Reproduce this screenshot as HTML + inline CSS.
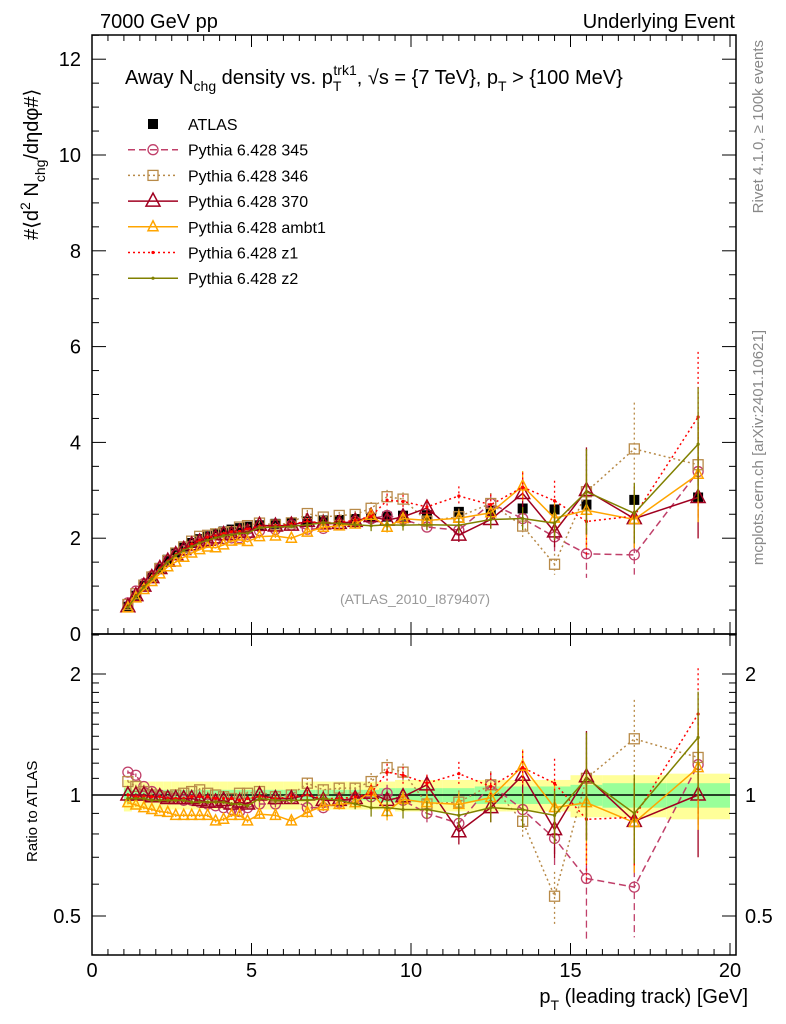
<!DOCTYPE html>
<html><head><meta charset="utf-8"><style>
body{margin:0;background:#fff;}
svg{display:block;font-family:"Liberation Sans",sans-serif;}
</style></head><body>
<svg id="chart" width="786" height="1024" viewBox="0 0 786 1024">
<g>
<text x="100" y="28" font-size="20">7000 GeV pp</text>
<text x="735" y="28" font-size="20" text-anchor="end">Underlying Event</text>
</g>
<text transform="translate(763,40) rotate(-90)" font-size="15" fill="#888" text-anchor="end">Rivet 4.1.0, ≥ 100k events</text>
<text transform="translate(763,330) rotate(-90)" font-size="15" fill="#888" text-anchor="end">mcplots.cern.ch [arXiv:2401.10621]</text>
<text transform="translate(38,240) rotate(-90)" font-size="20">#⟨d<tspan dy="-8" font-size="14">2</tspan><tspan dy="8"> N</tspan><tspan dy="7" font-size="14">chg</tspan><tspan dy="-7">/dηdφ#⟩</tspan></text>
<text transform="translate(37,862) rotate(-90)" font-size="15">Ratio to ATLAS</text>
<text x="748" y="1003" font-size="20" text-anchor="end">p<tspan dy="7" font-size="14">T</tspan><tspan dy="-7"> (leading track) [GeV]</tspan></text>
<text x="125" y="84" font-size="20">Away N<tspan dy="7" font-size="14">chg</tspan><tspan dy="-7"> density vs. p</tspan><tspan dy="7" font-size="14">T</tspan><tspan dx="-8" dy="-16" font-size="14">trk1</tspan><tspan dy="9">, √s = {7 TeV}, p</tspan><tspan dy="7" font-size="14">T</tspan><tspan dy="-7"> &gt; {100 MeV}</tspan></text>
<text x="415" y="604" font-size="14" fill="#999" text-anchor="middle">(ATLAS_2010_I879407)</text>
<g id="bands"></g><g id="axes"></g><g id="series"></g><g id="legend"></g>
</svg>
<script>
const xs=[1.125,1.375,1.625,1.875,2.125,2.375,2.625,2.875,3.125,3.375,3.625,3.875,4.125,4.375,4.625,4.875,5.25,5.75,6.25,6.75,7.25,7.75,8.25,8.75,9.25,9.75,10.5,11.5,12.5,13.5,14.5,15.5,17,19];
const binLo=[1,1.25,1.5,1.75,2,2.25,2.5,2.75,3,3.25,3.5,3.75,4,4.25,4.5,4.75,5,5.5,6,6.5,7,7.5,8,8.5,9,9.5,10,11,12,13,14,15,16,18];
const binHi=[1.25,1.5,1.75,2,2.25,2.5,2.75,3,3.25,3.5,3.75,4,4.25,4.5,4.75,5,5.5,6,6.5,7,7.5,8,8.5,9,9.5,10,11,12,13,14,15,16,18,20];
const atlas=[0.57,0.80,1.00,1.19,1.38,1.55,1.69,1.80,1.90,1.98,2.04,2.09,2.14,2.18,2.21,2.24,2.27,2.30,2.32,2.35,2.37,2.38,2.40,2.43,2.45,2.47,2.48,2.55,2.57,2.62,2.60,2.70,2.80,2.85];
const bandTot=[0.09,0.08,0.08,0.08,0.08,0.08,0.08,0.08,0.08,0.08,0.08,0.08,0.08,0.08,0.08,0.08,0.08,0.08,0.08,0.08,0.08,0.08,0.08,0.08,0.08,0.09,0.09,0.09,0.09,0.09,0.09,0.12,0.12,0.13];
const bandStat=[0.04,0.03,0.03,0.03,0.03,0.03,0.03,0.03,0.03,0.03,0.03,0.03,0.03,0.03,0.03,0.03,0.03,0.03,0.03,0.03,0.03,0.03,0.03,0.03,0.04,0.04,0.04,0.04,0.05,0.05,0.05,0.06,0.07,0.07];
const r345=[1.14,1.12,1.05,1.02,1.0,0.99,0.98,0.97,0.97,0.96,0.95,0.94,0.93,0.92,0.91,0.93,0.95,0.95,0.98,0.93,0.93,0.96,0.98,0.99,1.01,0.97,0.90,0.85,1.06,0.92,0.78,0.62,0.59,1.19];
const r346=[1.08,1.05,1.02,1.0,0.99,0.99,1.0,1.01,1.02,1.03,1.01,1.0,0.99,0.98,1.01,1.01,1.02,0.99,1.0,1.07,1.03,1.04,1.04,1.08,1.17,1.14,0.95,0.96,1.06,0.86,0.56,1.1,1.38,1.24];
const r370=[1.0,1.0,1.0,0.99,0.99,0.98,0.98,0.98,0.98,0.97,0.96,0.96,0.97,0.95,0.96,0.95,1.0,0.98,0.98,1.0,0.97,0.97,0.98,1.01,0.97,0.99,1.06,0.81,0.93,1.12,0.82,1.11,0.86,1.0];
const rAmbt=[0.957,0.944,0.93,0.92,0.91,0.905,0.89,0.89,0.89,0.89,0.89,0.862,0.87,0.89,0.89,0.862,0.896,0.89,0.862,0.905,0.94,0.948,0.957,1.02,0.91,0.975,0.957,0.948,0.985,1.18,0.93,0.957,0.854,1.17];
const rZ1=[1.0,0.99,0.99,0.99,0.99,0.98,0.98,0.98,0.99,0.99,0.99,0.98,0.98,0.98,0.97,0.98,0.99,0.98,0.99,1.0,0.98,0.98,0.99,1.01,1.14,1.12,1.07,1.13,1.05,1.17,1.07,0.87,0.88,1.59];
const rZ2=[0.98,0.98,0.98,0.97,0.97,0.97,0.97,0.97,0.96,0.96,0.96,0.96,0.96,0.95,0.95,0.94,0.98,0.97,0.97,0.97,0.98,0.97,0.95,0.93,0.93,0.92,0.92,0.89,0.93,0.92,0.89,1.1,0.9,1.39];
const mcErr=[0.01,0.01,0.01,0.01,0.01,0.01,0.01,0.01,0.01,0.01,0.01,0.01,0.01,0.01,0.01,0.01,0.02,0.02,0.02,0.03,0.03,0.03,0.03,0.05,0.05,0.05,0.05,0.07,0.08,0.1,0.15,0.3,0.25,0.3];
const legendLabels=["ATLAS","Pythia 6.428 345","Pythia 6.428 346","Pythia 6.428 370","Pythia 6.428 ambt1","Pythia 6.428 z1","Pythia 6.428 z2"];

const NS="http://www.w3.org/2000/svg";
const L=92,R=736,T=35,MB=634,RB=955;
const X=v=>L+v*31.9, Y=v=>MB-v*47.9, YR=r=>795-121*Math.log2(r);
function mk(parent,tag,attrs){const e=document.createElementNS(NS,tag);for(const k in attrs)e.setAttribute(k,attrs[k]);parent.appendChild(e);return e;}
const gB=document.getElementById('bands'),gA=document.getElementById('axes'),gS=document.getElementById('series'),gL=document.getElementById('legend');
const cl=Math.max, rr=r=>Math.min(RB,Math.max(MB,YR(Math.max(r,0.01))));

// bands
xs.forEach((x,i)=>{
 let b=mk(gB,'rect',{x:X(binLo[i]),y:YR(1+bandTot[i]),width:X(binHi[i])-X(binLo[i]),height:YR(1-bandTot[i])-YR(1+bandTot[i]),fill:'#ffff99'});
 
 
 let s=mk(gB,'rect',{x:X(binLo[i]),y:YR(1+bandStat[i]),width:X(binHi[i])-X(binLo[i]),height:YR(1-bandStat[i])-YR(1+bandStat[i]),fill:'#99ff99'});
 
 
});
let one=mk(gB,'line',{x1:L,x2:R,y1:YR(1),y2:YR(1),stroke:'#000','stroke-width':1.5});



// frames
let f1=mk(gA,'rect',{x:L,y:T,width:R-L,height:MB-T,fill:'none',stroke:'#000','stroke-width':1.5});


let f2=mk(gA,'rect',{x:L,y:MB,width:R-L,height:RB-MB,fill:'none',stroke:'#000','stroke-width':1.5});


// x ticks
for(let v=0;v<=20.001;v+=0.5){
 const maj=Math.abs(v%5)<1e-6, len=maj?12:6;
 [[MB,-1],[T,1],[RB,-1]].forEach(([y0,d])=>{
  let t=mk(gA,'line',{x1:X(v),x2:X(v),y1:y0,y2:y0+d*len,stroke:'#000'});
  
  
 });
 if(maj){let t=mk(gA,'line',{x1:X(v),x2:X(v),y1:MB,y2:MB+12,stroke:'#000'});
  
  
  let lb=mk(gA,'text',{x:X(v),y:977,'font-size':20,'text-anchor':'middle'});lb.textContent=v;
  
  }
}
// main y ticks
for(let v=0;v<=12.5;v+=0.5){
 const maj=Math.abs(v%2)<1e-6,len=maj?14:7;
 [[L,1],[R,-1]].forEach(([x0,d])=>{let t=mk(gA,'line',{x1:x0,x2:x0+d*len,y1:Y(v),y2:Y(v),stroke:'#000'});
  
  });
 if(maj){let lb=mk(gA,'text',{x:81,y:Y(v)+7,'font-size':20,'text-anchor':'end'});lb.textContent=v;
  
  }
}
// ratio y ticks
const rt=[0.4,0.5,0.6,0.7,0.8,0.9,1,1.1,1.2,1.3,1.4,1.5,1.6,1.7,1.8,1.9,2,2.5];
rt.forEach(r=>{
 const maj=(r===0.5||r===1||r===2),len=maj?14:7;
 if(YR(r)<MB||YR(r)>RB)return;
 [[L,1],[R,-1]].forEach(([x0,d])=>{let t=mk(gA,'line',{x1:x0,x2:x0+d*len,y1:YR(r),y2:YR(r),stroke:'#000'});
  
  });
 if(maj){[[81,'end'],[745,'start']].forEach(([xx,a])=>{let lb=mk(gA,'text',{x:xx,y:YR(r)+7,'font-size':20,'text-anchor':a});lb.textContent=r;
  
  });}
});

// series
const series=[
 {n:'pythia-345',r:r345,c:'#c0406a',dash:'7,4',m:'circle'},
 {n:'pythia-346',r:r346,c:'#b88a48',dash:'2,3',m:'square'},
 {n:'pythia-370',r:r370,c:'#a00020',dash:'',m:'tri'},
 {n:'pythia-ambt1',r:rAmbt,c:'#ffa500',dash:'',m:'trismall'},
 {n:'pythia-z1',r:rZ1,c:'#ff0000',dash:'2,3',m:'dot'},
 {n:'pythia-z2',r:rZ2,c:'#808000',dash:'',m:'dot'}];
function marker(g,m,x,y,c){
 let e;
 if(m==='circle')e=mk(g,'circle',{cx:x,cy:y,r:5,fill:'none',stroke:c,'stroke-width':1.3});
 else if(m==='square')e=mk(g,'rect',{x:x-5,y:y-5,width:10,height:10,fill:'none',stroke:c,'stroke-width':1.3});
 else if(m==='tri')e=mk(g,'polygon',{points:`${x-7},${y+5} ${x+7},${y+5} ${x},${y-8}`,fill:'none',stroke:c,'stroke-width':1.5});
 else if(m==='trismall')e=mk(g,'polygon',{points:`${x-5},${y+4} ${x+5},${y+4} ${x},${y-6}`,fill:'none',stroke:c,'stroke-width':1.5});
 else if(m==='filled')e=mk(g,'rect',{x:x-5,y:y-5,width:10,height:10,fill:'#000'});
 else e=mk(g,'circle',{cx:x,cy:y,r:1.6,fill:c});
 return e;
}
// ATLAS main
atlas.forEach((v,i)=>{let e=marker(gS,'filled',X(xs[i]),Y(v),'#000');
 
 });
series.forEach(s=>{
 const g=mk(gS,'g',{});
 
 
 const mv=s.r.map((r,i)=>r*atlas[i]);
 const pm=mv.map((v,i)=>X(xs[i])+','+Y(v)).join(' ');
 const pr=s.r.map((r,i)=>X(xs[i])+','+YR(r)).join(' ');
 let l1=mk(g,'polyline',{points:pm,fill:'none',stroke:s.c,'stroke-width':1.5,'stroke-dasharray':s.dash});
 
 
 const cp=mk(g,'g',{});
 let l2=mk(g,'polyline',{points:pr,fill:'none',stroke:s.c,'stroke-width':1.5,'stroke-dasharray':s.dash});
 
 
 s.r.forEach((r,i)=>{
  const x=X(xs[i]),v=mv[i],e=mcErr[i];
  let eb=mk(g,'line',{x1:x,x2:x,y1:Y(v*(1+e)),y2:Y(v*(1-e)),stroke:s.c,'stroke-width':1.3,'stroke-dasharray':s.dash});
  
  
  let eb2=mk(g,'line',{x1:x,x2:x,y1:rr(r*(1+e)),y2:rr(r-r*e),stroke:s.c,'stroke-width':1.3,'stroke-dasharray':s.dash});
  
  
  let p=marker(g,s.m,x,Y(v),s.c);
  
  
  if(YR(r)>MB&&YR(r)<RB){let q=marker(g,s.m,x,YR(r),s.c);
  
  }
 });
});
// legend
const lm=['filled','circle','square','tri','trismall','dot','dot'];
const lc=['#000','#c0406a','#b88a48','#a00020','#ffa500','#ff0000','#808000'];
const ld=['','7,4','2,3','','','2,3',''];
legendLabels.forEach((t,i)=>{
 const y=124+i*25.7;
 const g=mk(gL,'g',{});
 
 
 if(i>0)mk(g,'line',{x1:128,x2:178,y1:y,y2:y,stroke:lc[i],'stroke-width':1.5,'stroke-dasharray':ld[i]});
 marker(g,lm[i],153,y,lc[i]);
 const tx=mk(g,'text',{x:188,y:y+6,'font-size':16});tx.textContent=t;
});
</script>
</body></html>
